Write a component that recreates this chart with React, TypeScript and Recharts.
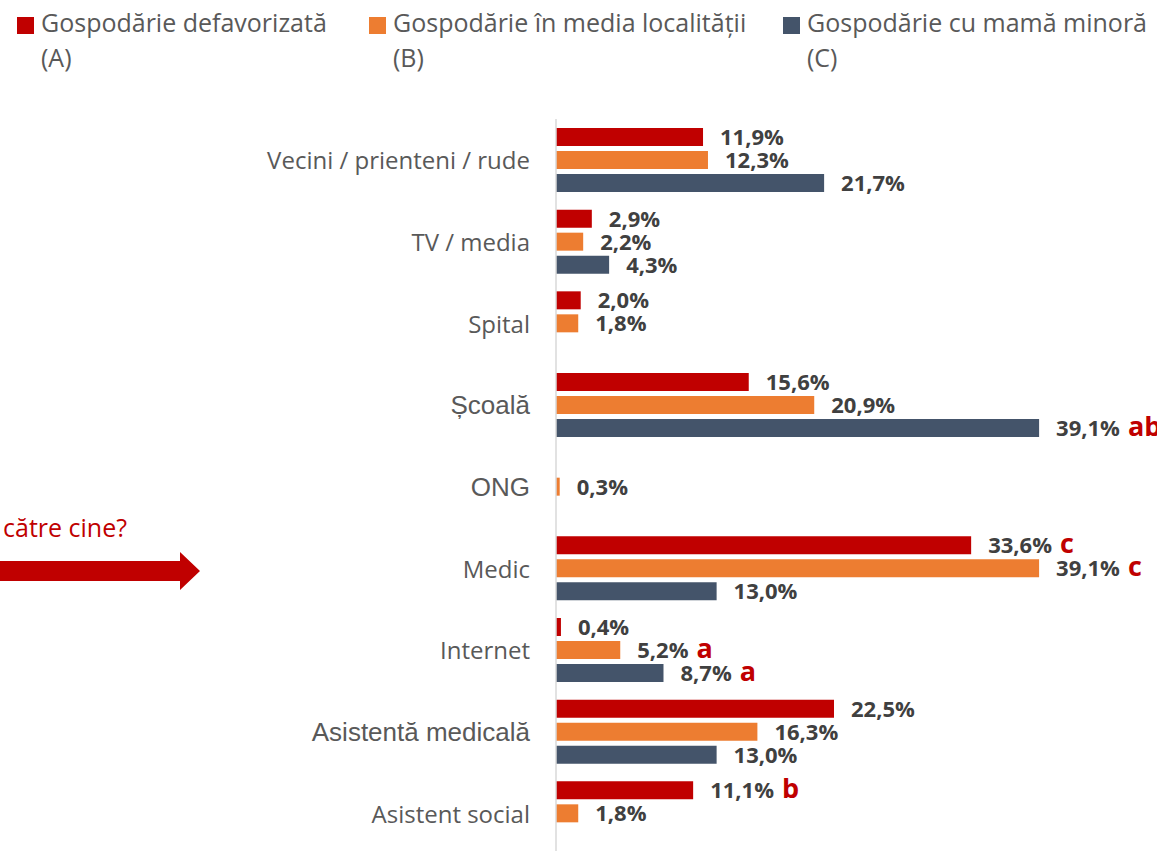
import React from 'react';
import { BarChart, Bar, XAxis, YAxis, LabelList, Legend } from 'recharts';

const categories = [
  'Vecini / prienteni / rude',
  'TV / media',
  'Spital',
  'Școală',
  'ONG',
  'Medic',
  'Internet',
  'Asistentă medicală',
  'Asistent social',
];
const seriesA: (number | null)[] = [11.9, 2.9, 2.0, 15.6, null, 33.6, 0.4, 22.5, 11.1];
const seriesB: (number | null)[] = [12.3, 2.2, 1.8, 20.9, 0.3, 39.1, 5.2, 16.3, 1.8];
const seriesC: (number | null)[] = [21.7, 4.3, null, 39.1, null, 13.0, 8.7, 13.0, null];
const notesA = ['', '', '', '', '', 'c', '', '', 'b'];
const notesB = ['', '', '', '', '', 'c', 'a', '', ''];
const notesC = ['', '', '', 'ab', '', '', 'a', '', ''];
const seriesNames = ['Gospodărie defavorizată', 'Gospodărie în media localității', 'Gospodărie cu mamă minoră'];
const seriesCodes = ['(A)', '(B)', '(C)'];
const seriesColors = ['#C00000', '#ED7D31', '#44546A'];
const arrowText = 'către cine?';
const altFontLabels = ['Școală', 'ONG', 'Asistentă medicală'];

const fmt = (v: number) => v.toFixed(1).replace('.', ',') + '%';
const lbl = (v: number | null, n: string) => (v === null ? null : fmt(v) + '|' + n);

const data = categories.map((c, i) => ({
  category: c,
  A: seriesA[i],
  B: seriesB[i],
  C: seriesC[i],
  labelA: lbl(seriesA[i], notesA[i]),
  labelB: lbl(seriesB[i], notesB[i]),
  labelC: lbl(seriesC[i], notesC[i]),
}));

const BODY_FONT = '"Open Sans", "Noto Sans", sans-serif';
const ALT_FONT = '"Liberation Sans", Arial, sans-serif';

const ValueLabel = (props: any) => {
  const { x, y, width, height, value } = props;
  if (value === null || value === undefined) return null;
  const [txt, note] = String(value).split('|');
  const cy = Number(y) + Number(height) / 2;
  return (
    <text x={Number(x) + Number(width) + 17} y={cy + 8} fill="#404040" fontSize={22} fontWeight={700} fontFamily={BODY_FONT}>
      {txt}
      {note ? (
        <tspan dx={8} fill="#C00000" fontSize={27} fontWeight={700}>{note}</tspan>
      ) : null}
    </text>
  );
};

const CategoryTick = (props: any) => {
  const { x, y, payload } = props;
  const alt = altFontLabels.includes(payload.value);
  return (
    <text
      x={Number(x) - 18}
      y={Number(y)}
      textAnchor="end"
      dominantBaseline="central"
      fill="#595959"
      fontSize={alt ? 26 : 24}
      fontFamily={alt ? ALT_FONT : BODY_FONT}
    >
      {payload.value}
    </text>
  );
};

const legendLeft = [17, 369, 783];

const LegendContent = () => (
  <div style={{ position: 'relative', width: 1157, height: 80 }}>
    {seriesNames.map((name, i) => (
      <div key={i} style={{ position: 'absolute', left: legendLeft[i], top: 0 }}>
        <div style={{ position: 'absolute', left: 0, top: 17, width: 17, height: 17, background: seriesColors[i] }} />
        <div
          style={{
            position: 'absolute',
            left: 24,
            top: 5,
            whiteSpace: 'nowrap',
            fontFamily: BODY_FONT,
            fontSize: 25,
            lineHeight: '35px',
            color: '#595959',
          }}
        >
          {name}
          <br />
          {seriesCodes[i]}
        </div>
      </div>
    ))}
  </div>
);

export default function App() {
  return (
    <div style={{ position: 'absolute', left: 0, top: 0, width: 1157, height: 851, overflow: 'hidden', background: '#fff' }}>
      <BarChart
        width={1157}
        height={860}
        data={data}
        layout="vertical"
        margin={{ top: 119, right: 45, bottom: 6, left: 0 }}
        barSize={18}
        barGap={5}
      >
        <XAxis type="number" domain={[0, 45]} hide />
        <YAxis
          type="category"
          dataKey="category"
          width={556}
          axisLine={{ stroke: '#D9D9D9', strokeWidth: 1.5 }}
          tickLine={false}
          tick={<CategoryTick />}
          interval={0}
        />
        <Legend
          content={<LegendContent />}
          verticalAlign="middle"
          align="center"
          layout="horizontal"
          wrapperStyle={{ top: 0, left: 0, width: 1157, height: 80 }}
        />
        <Bar dataKey="A" name={seriesNames[0]} fill={seriesColors[0]} isAnimationActive={false}>
          <LabelList dataKey="labelA" content={<ValueLabel />} />
        </Bar>
        <Bar dataKey="B" name={seriesNames[1]} fill={seriesColors[1]} isAnimationActive={false}>
          <LabelList dataKey="labelB" content={<ValueLabel />} />
        </Bar>
        <Bar dataKey="C" name={seriesNames[2]} fill={seriesColors[2]} isAnimationActive={false}>
          <LabelList dataKey="labelC" content={<ValueLabel />} />
        </Bar>
      </BarChart>
      <svg width={1157} height={851} style={{ position: 'absolute', left: 0, top: 0, pointerEvents: 'none' }}>
        <text x={127} y={537} textAnchor="end" fill="#C00000" fontSize={25} fontFamily={BODY_FONT}>
          {arrowText}
        </text>
        <polygon points="0,561 180,561 180,552 200,571 180,590 180,581 0,581" fill="#C00000" />
      </svg>
    </div>
  );
}
